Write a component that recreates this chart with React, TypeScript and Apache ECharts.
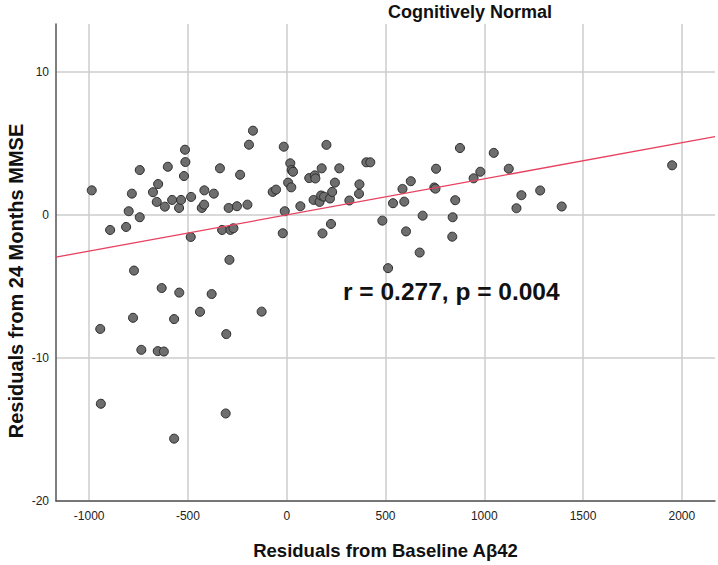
import React, { useEffect, useRef } from "react";
import * as echarts from "echarts";

// Residuals from Baseline Aβ42 (x) vs Residuals from 24 Months MMSE (y)
const pointsX = [
  -987, -894, -813, -800, -784, -744, -744, -773, -677, -651, -658, -617, -602, -580, -545, -535,
  -515, -513, -520, -484, -486, -430, -418, -417, -369, -338, -294, -327, -285, -270, -290, -252,
  -236, -199, -191, -171, -71, -54, -15, -10, -20, 7, 18, 25, 32, 23, 69, 114, 142, 145, 136, 166,
  177, 174, 189, 219, 201, 230, 244, 266, 224, 181, 317, 368, 366, 403, 423, 484, 513, 538, 586,
  595, 628, 604, 673, 688, 747, 753, 756, 840, 838, 853, 877, 946, 980, 1048, 1124, 1163, 1188,
  1283, 1392, 1951,
  -633, -544, -380, -439, -127, -778, -570, -944, -306, -736, -653, -622, -941, -309, -570,
];
const pointsY = [
  1.72, -1.05, -0.84, 0.26, 1.49, 3.14, -0.16, -3.89, 1.59, 2.16, 0.91, 0.58, 3.37, 1.05, 0.49, 1.05,
  4.56, 3.7, 2.72, 1.26, -1.54, 0.49, 0.72, 1.72, 1.49, 3.26, 0.49, -1.05, -1.05, -0.93, -3.14, 0.61,
  2.81, 0.72, 4.91, 5.89, 1.61, 1.77, 4.77, 0.26, -1.28, 2.26, 3.61, 3.14, 3.02, 1.93, 0.61, 2.58, 2.77, 2.55, 1.05, 0.91,
  3.26, 1.36, 1.28, 1.15, 4.9, 1.61, 2.26, 3.26, -0.63, -1.29, 1.01, 2.14, 1.48, 3.68, 3.68, -0.4, -3.72, 0.82, 1.82,
  0.93, 2.36, -1.15, -2.63, -0.05, 1.92, 1.84, 3.23, -0.16, -1.52, 1.03, 4.68, 2.56, 3.02, 4.34, 3.23, 0.47, 1.38,
  1.71, 0.59, 3.47,
  -5.11, -5.43, -5.53, -6.77, -6.76, -7.19, -7.28, -7.97, -8.33, -9.43, -9.52, -9.55, -13.2, -13.88, -15.64,
];
const fitLineX = [-1168, 2168];
const fitLineY = [-2.95, 5.47];
const xTicks = [-1000, -500, 0, 500, 1000, 1500, 2000];
const yTicks = [-20, -10, 0, 10];

const titleText = "Cognitively Normal";
const statText = "r = 0.277, p = 0.004";
const xName = "Residuals from Baseline Aβ42";
const yName = "Residuals from 24 Months MMSE";

const FONT = "'Liberation Sans', Arial, sans-serif";

export default function App() {
  const ref = useRef<HTMLDivElement>(null);
  useEffect(() => {
    if (!ref.current) return;
    const chart = echarts.init(ref.current, null, { renderer: "svg" });
    const scatterData = pointsX.map((x, i) => [x, pointsY[i]]);
    const lineData = fitLineX.map((x, i) => [x, fitLineY[i]]);
    chart.setOption({
      animation: false,
      backgroundColor: "#ffffff",
      textStyle: { fontFamily: FONT },
      grid: { left: 56, right: 3, top: 24, bottom: 64, containLabel: false },
      xAxis: {
        type: "value",
        min: -1168,
        max: 2168,
        name: xName,
        nameLocation: "middle",
        nameGap: 40,
        nameTextStyle: { fontFamily: FONT, fontSize: 18.5, fontWeight: "bold", color: "#111" },
        axisLine: { show: true, onZero: false, lineStyle: { color: "#555", width: 1.5 } },
        axisTick: { show: false, customValues: xTicks },
        axisLabel: {
          customValues: xTicks,
          formatter: (v: number) => String(v),
          fontFamily: FONT,
          fontSize: 12,
          color: "#222",
          margin: 9,
        },
        splitLine: { show: true, lineStyle: { color: "#cccccc", width: 1.5 } },
      },
      yAxis: {
        type: "value",
        min: -20,
        max: 13.35,
        axisLine: { show: true, onZero: false, lineStyle: { color: "#555", width: 1.5 } },
        axisTick: { show: false, customValues: yTicks },
        axisLabel: {
          customValues: yTicks,
          formatter: (v: number) => String(v),
          fontFamily: FONT,
          fontSize: 12,
          color: "#222",
          margin: 7,
        },
        splitLine: { show: true, lineStyle: { color: "#cccccc", width: 1.5 } },
      },
      graphic: [
        {
          type: "text",
          x: 470,
          y: 11.5,
          style: {
            text: titleText,
            fontFamily: FONT,
            fontSize: 18,
            fontWeight: "bold",
            fill: "#111",
            textAlign: "center",
            textVerticalAlign: "middle",
          },
        },
        {
          type: "text",
          x: 16,
          y: 281,
          rotation: Math.PI / 2,
          style: {
            text: yName,
            fontFamily: FONT,
            fontSize: 20,
            fontWeight: "bold",
            fill: "#111",
            textAlign: "center",
            textVerticalAlign: "middle",
          },
        },
        {
          type: "text",
          x: 343,
          y: 291,
          z: 100,
          style: {
            text: statText,
            fontFamily: FONT,
            fontSize: 24.5,
            fontWeight: "bold",
            fill: "#111",
            textAlign: "left",
            textVerticalAlign: "middle",
          },
        },
      ],
      series: [
        {
          type: "scatter",
          data: scatterData,
          symbol: "circle",
          symbolSize: 9,
          itemStyle: { color: "#6e6e6e", borderColor: "#2a2a2a", borderWidth: 1, opacity: 1 },
          z: 2,
        },
        {
          type: "line",
          data: lineData,
          symbol: "none",
          lineStyle: { color: "#e8405f", width: 1.3 },
          z: 3,
        },
      ],
    });
    return () => chart.dispose();
  }, []);
  return (
    <div
      ref={ref}
      style={{ position: "fixed", left: 0, top: 0, width: 718, height: 565, background: "#fff" }}
    />
  );
}
